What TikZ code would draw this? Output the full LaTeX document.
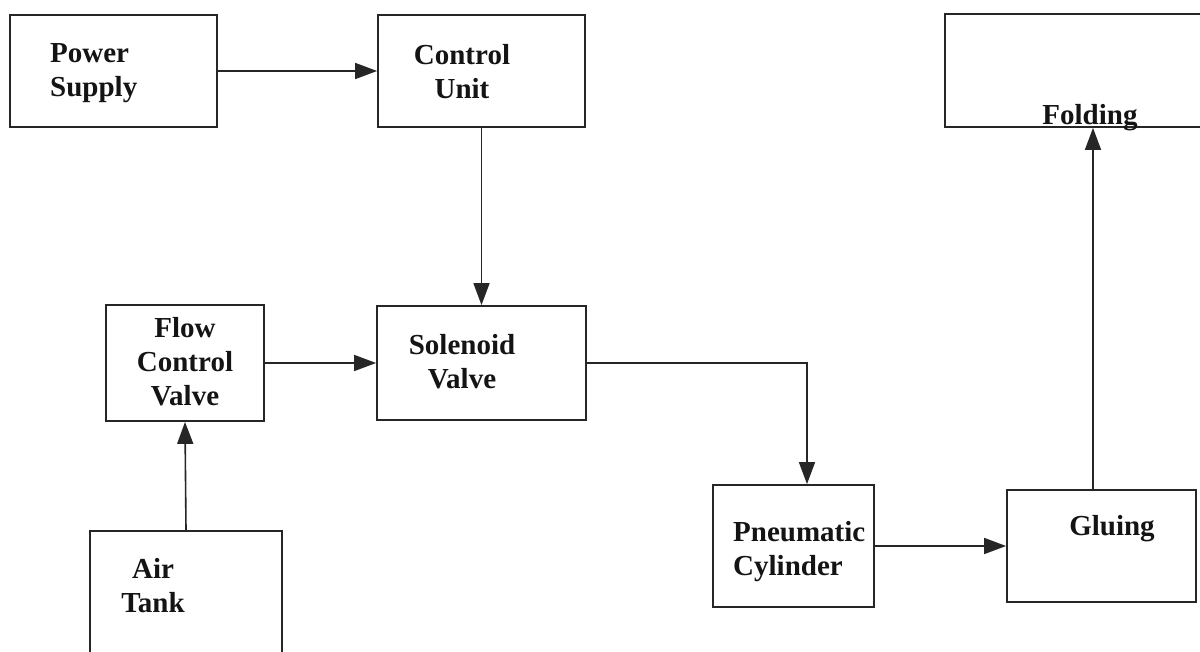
\documentclass[tikz,border=0pt]{standalone}
\usepackage{fontspec}
\setmainfont{Liberation Serif}
\usetikzlibrary{arrows.meta}
\definecolor{ink}{HTML}{141414}
\definecolor{edge}{HTML}{262626}
\begin{document}
\begin{tikzpicture}[x=1pt,y=-1pt,
  blk/.style={draw=edge,line width=1.8pt,rectangle,inner sep=0pt},
  txt/.style={text=ink,font=\fontsize{29}{34}\selectfont\bfseries,inner sep=0pt},
  conn/.style={draw=edge,line width=1.6pt,-{Triangle[length=22pt,width=16pt]}}]
\useasboundingbox (0,0) rectangle (1200,651);
\fill[white] (0,0) rectangle (1200,651);
% boxes
\node[blk,minimum width=207pt,minimum height=112pt] (ps) at (113.5,71) {};
\node[blk,minimum width=207pt,minimum height=112pt] (cu) at (481.5,71) {};
\node[blk,minimum width=265pt,minimum height=113pt] (fold) at (1077.5,70.5) {};
\node[blk,minimum width=158pt,minimum height=116pt] (fcv) at (185,363) {};
\node[blk,minimum width=209pt,minimum height=114pt] (sv) at (481.5,363) {};
\node[blk,minimum width=192pt,minimum height=134pt] (at) at (186,598) {};
\node[blk,minimum width=161pt,minimum height=122pt] (pc) at (793.5,546) {};
\node[blk,minimum width=189pt,minimum height=112pt] (gl) at (1101.5,546) {};
% texts
\node[txt,align=left,anchor=west] (tps) at (50,73) {Power\\Supply};
\node[txt,align=center] (tcu) at (462,72) {Control\\Unit};
\node[txt,anchor=base] (tfold) at (1090,124) {Folding};
\node[txt,align=center] (tfcv) at (185,362) {Flow\\Control\\Valve};
\node[txt,align=center] (tsv) at (462,362) {Solenoid\\Valve};
\node[txt,align=center] (tat) at (153,586) {Air\\Tank};
\node[txt,align=left,anchor=west] (tpc) at (733,552) {Pneumatic\\Cylinder};
\node[txt,anchor=base] (tgl) at (1112,535) {Gluing};
% connectors
\draw[conn] (ps.east) -- (cu.west);
\draw[conn] (cu.south) -- (sv.north);
\draw[conn] (fcv.east) -- (sv.west);
\draw[conn] (at.north) -- (fcv.south);
\draw[conn] (sv.east) -| ([xshift=13.5pt]pc.north);
\draw[conn] (pc.east) -- (gl.west);
\draw[conn] ([xshift=-8.5pt]gl.north) -- ([xshift=-8.5pt]gl.north |- fold.south);
\end{tikzpicture}
\end{document}
